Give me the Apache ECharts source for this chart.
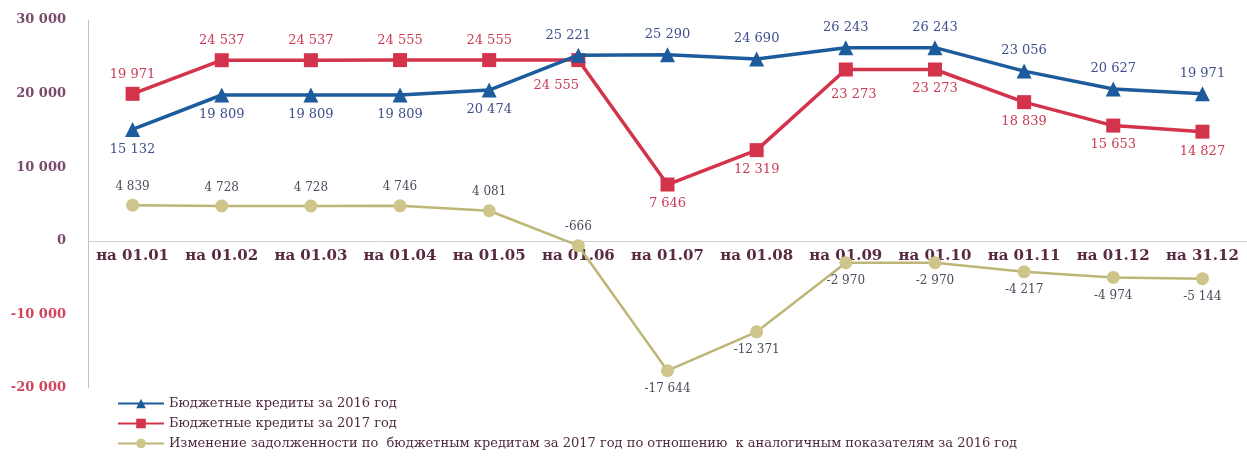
<!DOCTYPE html>
<html>
<head>
<meta charset="utf-8">
<script src="https://cdn.jsdelivr.net/npm/echarts@6/dist/echarts.min.js"></script>
<style>
  html, body { margin: 0; padding: 0; background: #fff; }
  #chart { width: 1247px; height: 456px; }
</style>
</head>
<body>
<div id="chart"></div>
<script>
// даты отчетов
var categories = ['на 01.01', 'на 01.02', 'на 01.03', 'на 01.04', 'на 01.05', 'на 01.06',
  'на 01.07', 'на 01.08', 'на 01.09', 'на 01.10', 'на 01.11', 'на 01.12', 'на 31.12'];
var credits2016 = [15132, 19809, 19809, 19809, 20474, 25221, 25290, 24690, 26243, 26243, 23056, 20627, 19971];
var credits2017 = [19971, 24537, 24537, 24555, 24555, 24555, 7646, 12319, 23273, 23273, 18839, 15653, 14827];
var debtChange = [4839, 4728, 4728, 4746, 4081, -666, -17644, -12371, -2970, -2970, -4217, -4974, -5144];
var seriesNames = [
  'Бюджетные кредиты за 2016 год',
  'Бюджетные кредиты за 2017 год',
  'Изменение задолженности по  бюджетным кредитам за 2017 год по отношению  к аналогичным показателям за 2016 год'
];

var serif = 'DejaVu Serif';

function fmt(v) {
  return String(v).replace(/\B(?=(\d{3})+(?!\d))/g, ' ');
}

// где ставить подпись у каждой точки
function withPos(values, posFn, offsetFn) {
  return values.map(function (v, i) {
    var lab = { position: posFn(i) };
    if (offsetFn) lab.offset = offsetFn(i);
    return { value: v, label: lab };
  });
}

var myChart = echarts.init(document.getElementById('chart'));
var option = {
  animation: false,
  grid: { left: 88, right: -8, top: 20, bottom: 68 },
  legend: {
    orient: 'vertical',
    left: 112,
    top: 392,
    itemGap: 7,
    itemWidth: 46,
    itemHeight: 12,
    textStyle: { fontFamily: serif, fontSize: 13, color: '#4e2a3e' },
    data: seriesNames
  },
  xAxis: {
    type: 'category',
    data: categories,
    axisLine: { onZero: true, lineStyle: { color: '#cfcfcf', width: 1 } },
    axisTick: { show: false },
    axisLabel: { interval: 0, hideOverlap: false, fontFamily: serif, fontSize: 15, fontWeight: 'bold', color: '#5a2a42', margin: -139 }
  },
  yAxis: {
    type: 'value',
    min: -20000,
    max: 30000,
    interval: 10000,
    splitLine: { show: false },
    axisLine: { show: true, lineStyle: { color: '#c9b9c6' } },
    axisTick: { show: false },
    axisLabel: {
      margin: 22,
      formatter: function (v) {
        return v < 0 ? '{neg|' + fmt(v) + '}' : '{pos|' + fmt(v) + '}';
      },
      rich: {
        pos: { color: '#7a4a6c', fontFamily: serif, fontSize: 13, fontWeight: 'bold' },
        neg: { color: '#d0455c', fontFamily: serif, fontSize: 13, fontWeight: 'bold' }
      }
    }
  },
  series: [
    {
      name: seriesNames[0],
      type: 'line',
      data: withPos(credits2016, function (i) { return i < 5 ? 'bottom' : 'top'; },
        function (i) { return i === 5 ? [-10, 0] : [0, 0]; }),
      symbol: 'triangle',
      symbolSize: 15,
      itemStyle: { color: '#1c5b9c' },
      lineStyle: { color: '#1c5b9c', width: 3.5 },
      label: {
        show: true, distance: 6, formatter: function (p) { return fmt(p.value); },
        fontFamily: serif, fontSize: 13, color: '#3e4f8c'
      },
      z: 3
    },
    {
      name: seriesNames[1],
      type: 'line',
      data: withPos(credits2017, function (i) { return i < 5 ? 'top' : 'bottom'; },
        function (i) { return i === 5 ? [-22, 6] : (i === 8 ? [8, 6] : [0, 0]); }),
      symbol: 'rect',
      symbolSize: 14,
      itemStyle: { color: '#d3344c' },
      lineStyle: { color: '#d3344c', width: 3.5 },
      label: {
        show: true, distance: 6, formatter: function (p) { return fmt(p.value); },
        fontFamily: serif, fontSize: 13, color: '#cc3a54'
      },
      z: 2
    },
    {
      name: seriesNames[2],
      type: 'line',
      data: withPos(debtChange, function (i) { return i < 6 ? 'top' : 'bottom'; }),
      symbol: 'circle',
      symbolSize: 13,
      itemStyle: { color: '#cdc58a' },
      lineStyle: { color: '#bdb677', width: 2.5 },
      label: {
        show: true, distance: 6, formatter: function (p) { return fmt(p.value); },
        fontFamily: serif, fontSize: 12, color: '#4a4e5c'
      },
      z: 1
    }
  ]
};
myChart.setOption(option);
</script>
</body>
</html>
